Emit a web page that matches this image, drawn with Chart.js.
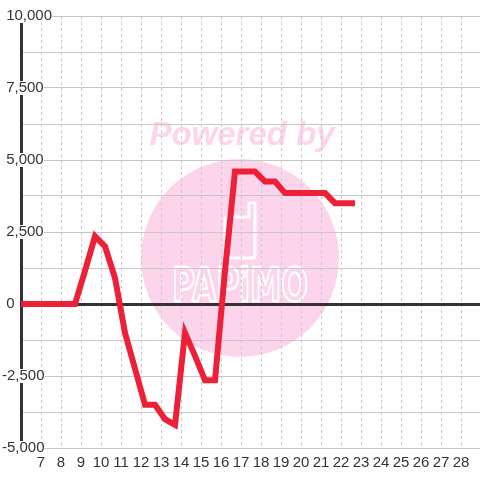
<!DOCTYPE html>
<html lang="en">
<head>
  <meta charset="UTF-8" />
  <title>Line chart</title>
  <script src="https://cdn.jsdelivr.net/npm/chart.js"></script>
  <style>
    html, body { margin: 0; padding: 0; background: #fff; }
    .wrap { width: 480px; height: 480px; position: relative; }
  </style>
</head>
<body>
  <div class="wrap">
    <canvas id="lineChart"></canvas>
  </div>

  <script>
    // x positions (hours) and values
    const hours = [5.7, 6.2, 6.7, 7.2, 7.7, 8.2, 8.7, 9.2, 9.7, 10.2, 10.7, 11.2, 11.7, 12.2, 12.7,
                   13.2, 13.7, 14.2, 14.7, 15.2, 15.7, 16.2, 16.7, 17.2, 17.7, 18.2, 18.7, 19.2,
                   19.7, 20.2, 20.7, 21.2, 21.7, 22.2, 22.7];
    const values = [0, 0, 0, 0, 0, 0, 0, 1150, 2350, 2000, 900, -1000, -2250, -3500, -3500,
                    -4000, -4200, -1000, -1800, -2650, -2650, 1150, 4600, 4600, 4600, 4250, 4250, 3850,
                    3850, 3850, 3850, 3850, 3500, 3500, 3500];

    const xTicks = [7, 8, 9, 10, 11, 12, 13, 14, 15, 16, 17, 18, 19, 20, 21, 22, 23, 24, 25, 26, 27, 28];
    const yTicks = [-5000, -3750, -2500, -1250, 0, 1250, 2500, 3750, 5000, 6250, 7500, 8750, 10000];
    const yLabelStep = 2500;

    const points = hours.map((h, i) => ({ x: h, y: values[i] }));

    const watermark = {
      id: 'watermark',
      beforeDraw(chart) {
        const c = chart.ctx;
        c.save();
        c.fillStyle = '#fcd5ec';
        c.beginPath();
        c.arc(240, 258, 99, 0, Math.PI * 2);
        c.fill();

        c.font = 'italic bold 33px "Liberation Sans"';
        c.textAlign = 'center';
        c.textBaseline = 'alphabetic';
        c.fillText('Powered by', 242, 145);

        c.strokeStyle = '#fff';
        c.lineWidth = 3;
        c.lineJoin = 'round';
        c.beginPath();
        c.moveTo(249, 217);
        c.lineTo(228, 217);
        c.quadraticCurveTo(225, 217, 225, 220);
        c.lineTo(225, 255);
        c.quadraticCurveTo(225, 258, 228, 258);
        c.lineTo(252, 258);
        c.quadraticCurveTo(255, 258, 255, 255);
        c.lineTo(255, 203);
        c.lineTo(249, 203);
        c.closePath();
        c.stroke();

        c.font = 'bold 46px "DejaVu Sans"';
        const w = c.measureText('PAPiMO').width;
        c.translate(240, 301);
        c.scale(136 / w, 1);
        c.lineWidth = 2.5;
        c.strokeText('PAPiMO', 0, 0);
        c.restore();
      }
    };

    new Chart(document.getElementById('lineChart').getContext('2d'), {
      type: 'line',
      data: {
        datasets: [{
          data: points,
          borderColor: '#ee2038',
          borderWidth: 6,
          borderJoinStyle: 'miter',
          borderCapStyle: 'butt',
          pointRadius: 0,
          tension: 0,
          fill: false
        }]
      },
      plugins: [watermark],
      options: {
        responsive: true,
        maintainAspectRatio: false,
        animation: false,
        layout: { padding: { left: 2, top: 16, right: 0, bottom: 0 } },
        plugins: {
          legend: { display: false },
          tooltip: { enabled: false }
        },
        scales: {
          x: {
            type: 'linear',
            min: 6,
            max: 28.95,
            afterBuildTicks: s => { s.ticks = xTicks.map(v => ({ value: v })); },
            afterFit: s => { s.height = 32; },
            grid: { color: '#c8c8c8', lineWidth: 1, drawTicks: false, borderDash: [3, 3] },
            border: { display: false, dash: [3, 3] },
            ticks: {
              padding: 6,
              color: '#333',
              font: { family: '"Liberation Sans", Arial, sans-serif', size: 15 },
              maxRotation: 0,
              autoSkip: false
            }
          },
          y: {
            min: -5000,
            max: 10000,
            afterBuildTicks: s => { s.ticks = yTicks.map(v => ({ value: v })); },
            afterFit: s => { s.width = 19; },
            grid: {
              drawTicks: false,
              color: ctx => ctx.tick && ctx.tick.value === 0 ? '#333' : '#c8c8c8',
              lineWidth: ctx => ctx.tick && ctx.tick.value === 0 ? 3 : 1
            },
            border: { display: true, color: '#333', width: 3 },
            ticks: {
              mirror: true,
              crossAlign: 'near',
              padding: -19,
              color: '#333',
              font: { family: '"Liberation Sans", Arial, sans-serif', size: 15 },
              autoSkip: false,
              showLabelBackdrop: true,
              backdropColor: ctx => ctx.tick && ctx.tick.value % yLabelStep === 0 ? '#fff' : 'rgba(0,0,0,0)',
              backdropPadding: { left: 2, right: 0, top: -2, bottom: -2 },
              callback: v => v % yLabelStep === 0 ? (v < 0 ? '' : ' ') + v.toLocaleString('en-US') : ''
            }
          }
        }
      }
    });
  </script>
</body>
</html>
